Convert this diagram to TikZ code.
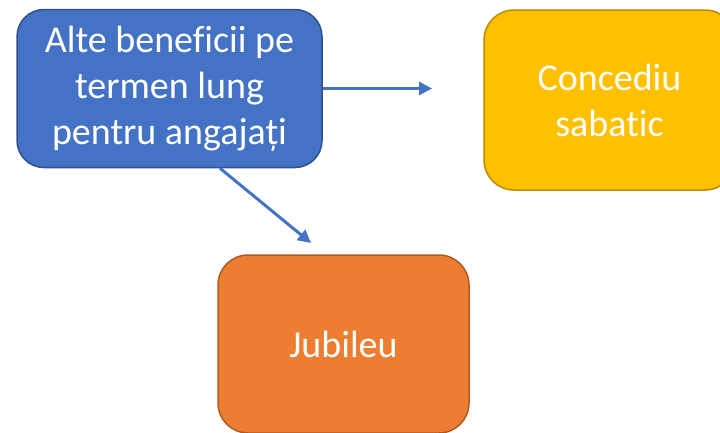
\documentclass[tikz,border=0pt]{standalone}
\usepackage{fontspec}
\setmainfont{Carlito}[Ligatures={NoCommon,NoContextual}]
\usetikzlibrary{arrows.meta}
\definecolor{bluefill}{HTML}{4472C4}
\definecolor{blueline}{HTML}{2F528F}
\definecolor{yelfill}{HTML}{FFC000}
\definecolor{yelline}{HTML}{BC8C00}
\definecolor{orfill}{HTML}{ED7D31}
\definecolor{orline}{HTML}{AE5A21}
\tikzset{
  boxbase/.style={rounded corners=30pt, line width=1.5pt, text=white, align=center,
    font=\fontsize{38}{46}\selectfont, inner sep=0pt},
  bluebox/.style={boxbase, fill=bluefill, draw=blueline, rounded corners=27pt,
    minimum width=305pt, minimum height=158pt},
  yelbox/.style={boxbase, fill=yelfill, draw=yelline, minimum width=251pt, minimum height=180pt},
  orbox/.style={boxbase, fill=orfill, draw=orline, minimum width=251pt, minimum height=178pt},
  link/.style={draw=bluefill, line width=3pt, -{Triangle[length=13pt,width=13pt]}}
}
\begin{document}
\begin{tikzpicture}[x=1pt,y=-1pt]
\useasboundingbox (0,0) rectangle (720,432);
\clip (0,0) rectangle (720,432);
\node[bluebox] (blue) at (169.5,88.5) {Alte beneficii pe\\termen lung\\pentru angajați};
\node[yelbox] (yel) at (609.5,100) {Concediu\\sabatic};
\node[orbox] (orange) at (343.5,344) {Jubileu};
\coordinate (t1) at (432,88.5);
\coordinate (t2) at (311,243);
\coordinate (s2) at ([xshift=50.5pt]blue.south);
\draw[link] (blue.east |- t1) -- (t1);
\draw[link] (s2) -- (t2);
\end{tikzpicture}
\end{document}
